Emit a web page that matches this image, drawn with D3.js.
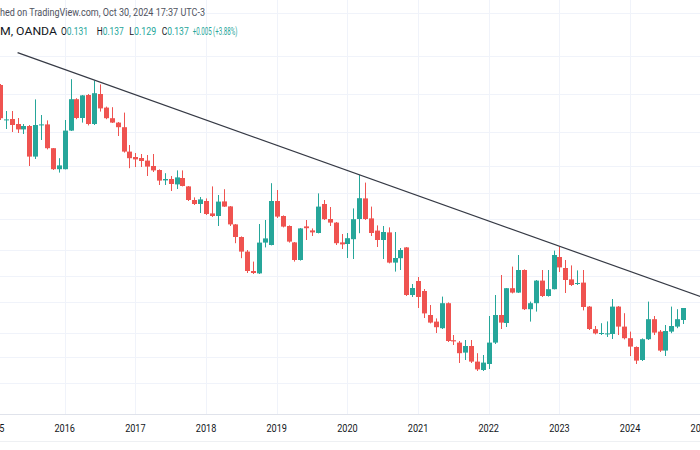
<!DOCTYPE html>
<html><head><meta charset="utf-8">
<script src="https://cdn.jsdelivr.net/npm/d3@7"></script>
<style>html,body{margin:0;padding:0;background:#fff;overflow:hidden}</style>
</head><body><svg id="c" width="700" height="450"></svg>
<script>
// Monthly candles, first candle = Feb 2015, last = Oct 2024
const firstMonth = "2015-02";
const open = [
 .2485,.2308,.2315,.2290,.2263,.2280,.2127,.2283,.2288,.2169,.2064,
 .2064,.2257,.2414,.2320,.2435,.2290,.2440,.2372,.2319,.2297,.2274,.2152,
 .2125,.2120,.2107,.2080,.2060,.2008,.2015,.1988,.2020,.1978,.1910,.1890,
 .1905,.1843,.1830,.1903,.1878,.1788,.1725,.1652,.1555,.1543,.1697,.1685,
 .1905,.1830,.1780,.1698,.1610,.1778,.1758,.1745,.1890,.1815,.1797,.1698,
 .1690,.1714,.1815,.1918,.1818,.1757,.1710,.1748,.1597,.1619,.1673,.1435,
 .1505,.1455,.1335,.1302,.1269,.1394,.1209,.1197,.1147,.1180,.1102,.1060,
 .1090,.1197,.1335,.1295,.1469,.1447,.1560,.1364,.1394,.1507,.1430,.1464,
 .1625,.1570,.1513,.1490,.1497,.1377,.1264,.1240,.1238,.1240,.1377,.1277,
 .1219,.1175,.1110,.1214,.1314,.1252,.1157,.1252,.1277,.1310];
const high = [
 .2490,.2355,.2355,.2320,.2290,.2285,.2413,.2335,.2308,.2170,.2119,
 .2310,.2514,.2419,.2435,.2440,.2507,.2488,.2377,.2374,.2300,.2347,.2185,
 .2145,.2140,.2135,.2140,.2063,.2044,.2030,.2058,.2058,.1980,.1923,.1925,
 .1918,.1978,.1935,.1964,.1880,.1790,.1728,.1660,.1602,.1790,.1810,.1994,
 .1960,.1833,.1783,.1700,.1770,.1810,.1768,.1943,.1910,.1875,.1800,.1740,
 .1745,.1868,.2035,.1997,.1877,.1783,.1780,.1773,.1750,.1670,.1675,.1490,
 .1525,.1465,.1385,.1318,.1427,.1398,.1235,.1205,.1210,.1210,.1144,.1135,
 .1330,.1435,.1535,.1470,.1577,.1635,.1563,.1402,.1510,.1560,.1560,.1657,
 .1677,.1610,.1583,.1558,.1560,.1380,.1280,.1294,.1303,.1415,.1380,.1344,
 .1252,.1178,.1218,.1402,.1330,.1260,.1285,.1377,.1364,.1370];
const low = [
 .2310,.2265,.2250,.2245,.2240,.2080,.2115,.2210,.2163,.2060,.2047,
 .2063,.2255,.2314,.2297,.2283,.2285,.2352,.2314,.2295,.2230,.2147,.2069,
 .2075,.2075,.2030,.2050,.1985,.1985,.1955,.1965,.1978,.1905,.1885,.1845,
 .1835,.1825,.1780,.1875,.1780,.1694,.1619,.1545,.1540,.1540,.1673,.1683,
 .1820,.1773,.1697,.1602,.1607,.1710,.1730,.1743,.1810,.1780,.1685,.1665,
 .1620,.1615,.1744,.1810,.1730,.1675,.1615,.1593,.1552,.1560,.1430,.1425,
 .1370,.1320,.1293,.1245,.1265,.1200,.1185,.1095,.1110,.1095,.1055,.1055,
 .1065,.1190,.1265,.1275,.1443,.1445,.1360,.1302,.1352,.1425,.1427,.1463,
 .1550,.1445,.1480,.1485,.1358,.1260,.1238,.1235,.1225,.1215,.1235,.1213,
 .1130,.1090,.1105,.1210,.1235,.1150,.1130,.1244,.1269,.1290];
const close = [
 .2319,.2313,.2285,.2263,.2280,.2127,.2285,.2288,.2169,.2064,.2083,
 .2257,.2414,.2320,.2433,.2290,.2444,.2368,.2319,.2297,.2274,.2152,.2119,
 .2113,.2105,.2077,.2058,.2007,.2015,.1990,.2023,.1980,.1910,.1890,.1913,
 .1840,.1830,.1902,.1877,.1788,.1725,.1652,.1555,.1545,.1697,.1718,.1905,
 .1827,.1777,.1702,.1610,.1768,.1769,.1748,.1877,.1814,.1797,.1694,.1688,
 .1719,.1814,.1919,.1815,.1745,.1710,.1750,.1597,.1620,.1660,.1435,.1470,
 .1425,.1343,.1297,.1274,.1394,.1205,.1203,.1144,.1180,.1102,.1063,.1097,
 .1197,.1335,.1297,.1469,.1447,.1560,.1364,.1394,.1507,.1430,.1464,.1635,
 .1573,.1510,.1485,.1495,.1375,.1265,.1243,.1245,.1243,.1377,.1277,.1219,
 .1177,.1107,.1214,.1314,.1247,.1157,.1255,.1280,.1314,.1370];
const yearLabels = ["2015","2016","2017","2018","2019","2020","2021","2022","2023","2024","2025"];
const gridPrices = [.2845,.2630,.2440,.2250,.2080,.1945,.1815,.1660,.1530,.1400,.1245,.1125,.0995];
const trendAnchors = [{month:"2015-05", price:.2647},{month:"2023-01", price:.1679}];
const headerLine1 = "hed on TradingView.com, Oct 30, 2024 17:37 UTC-3";
const symbolText = "M, OANDA";
const ohlcLabels = ["O","H","L","C"];
const lastOHLC = ["0.131","0.137","0.129","0.137"];
const changeText = "+0.005 (+3.88%)";

const W = 700, H = 450, paneBottom = 414.5;
const UP = "#26a69a", DOWN = "#ef5350";
const svg = d3.select("#c");
svg.append("rect").attr("width",W).attr("height",H).attr("fill","#fff");

function monthIdx(s){ const [y,m] = s.split("-").map(Number); return (y-2016)*12 + (m-1); }
const startIdx = monthIdx(firstMonth);
const candles = open.map((o,i)=>({idx:startIdx+i,o,h:high[i],l:low[i],c:close[i]}));

const x = d3.scaleLinear().domain([0,96]).range([64.7,630.1]);
const y = d3.scaleLinear().domain([0.1,0.3]).range([382,-18]);

svg.append("defs").append("clipPath").attr("id","pane")
  .append("rect").attr("x",0).attr("y",0).attr("width",W).attr("height",paneBottom);
const pane = svg.append("g").attr("clip-path","url(#pane)");

// grid
pane.append("g").selectAll("line").data(gridPrices).join("line")
  .attr("x1",0).attr("x2",W)
  .attr("y1",d=>Math.round(y(d))+0.5).attr("y2",d=>Math.round(y(d))+0.5)
  .attr("stroke","#f0f3fa").attr("stroke-width",1);
pane.append("g").selectAll("line").data(yearLabels).join("line")
  .attr("x1",d=>Math.round(x(monthIdx(d+"-01")))+0.5).attr("x2",d=>Math.round(x(monthIdx(d+"-01")))+0.5)
  .attr("y1",0).attr("y2",paneBottom)
  .attr("stroke","#f0f3fa").attr("stroke-width",1);

// candles
const g = pane.append("g");
candles.forEach(d=>{
  const cx = Math.round(x(d.idx));
  const col = d.c >= d.o ? UP : DOWN;
  g.append("line").attr("x1",cx+0.5).attr("x2",cx+0.5)
    .attr("y1",y(d.h)).attr("y2",y(d.l)).attr("stroke",col).attr("stroke-width",1);
  const top = y(Math.max(d.o,d.c)), bot = y(Math.min(d.o,d.c));
  g.append("rect").attr("x",cx-2).attr("width",5)
    .attr("y",top).attr("height",Math.max(1,bot-top)).attr("fill",col);
});

// trend line, extended to the right edge
const a0 = trendAnchors[0], a1 = trendAnchors[1];
const i0 = monthIdx(a0.month), i1 = monthIdx(a1.month);
const iEnd = x.invert(W+2);
const pEnd = a0.price + (a1.price-a0.price)*(iEnd-i0)/(i1-i0);
pane.append("line")
  .attr("x1",x(i0)).attr("y1",y(a0.price)).attr("x2",x(iEnd)).attr("y2",y(pEnd))
  .attr("stroke","#363a45").attr("stroke-width",1.2);

// time axis
svg.append("line").attr("x1",0).attr("x2",W).attr("y1",paneBottom).attr("y2",paneBottom)
  .attr("stroke","#e0e3eb");
svg.append("line").attr("x1",0).attr("x2",W).attr("y1",441.5).attr("y2",441.5)
  .attr("stroke","#eef0f3");
svg.append("g").selectAll("text").data(yearLabels).join("text")
  .attr("x",d=>x(monthIdx(d+"-01"))).attr("y",432)
  .attr("text-anchor","middle").attr("font-family","Roboto, sans-serif").attr("font-size",11)
  .attr("textLength",20.5).attr("lengthAdjust","spacingAndGlyphs")
  .attr("fill","#131722").text(d=>d);

// header
const font = "Roboto, sans-serif";
svg.append("text").attr("x",0).attr("y",16).attr("font-family",font).attr("font-size",10)
  .attr("fill","#50535e").attr("textLength",205).attr("lengthAdjust","spacingAndGlyphs")
  .text(headerLine1);
svg.append("text").attr("x",0).attr("y",34.5).attr("font-family",font).attr("font-size",10)
  .attr("fill","#131722").attr("textLength",57).attr("lengthAdjust","spacingAndGlyphs")
  .text(symbolText);
const segX = [61,96.7,129.3,161.7];
ohlcLabels.forEach((lab,i)=>{
  const t = svg.append("text").attr("x",segX[i]).attr("y",34.5).attr("font-family",font)
    .attr("font-size",10).attr("textLength",27).attr("lengthAdjust","spacingAndGlyphs");
  t.append("tspan").attr("fill","#131722").text(lab);
  t.append("tspan").attr("fill",UP).text(lastOHLC[i]);
});
svg.append("text").attr("x",192.7).attr("y",34.5).attr("font-family",font).attr("font-size",10)
  .attr("fill",UP).attr("textLength",44.6).attr("lengthAdjust","spacingAndGlyphs")
  .text(changeText);
</script></body></html>
